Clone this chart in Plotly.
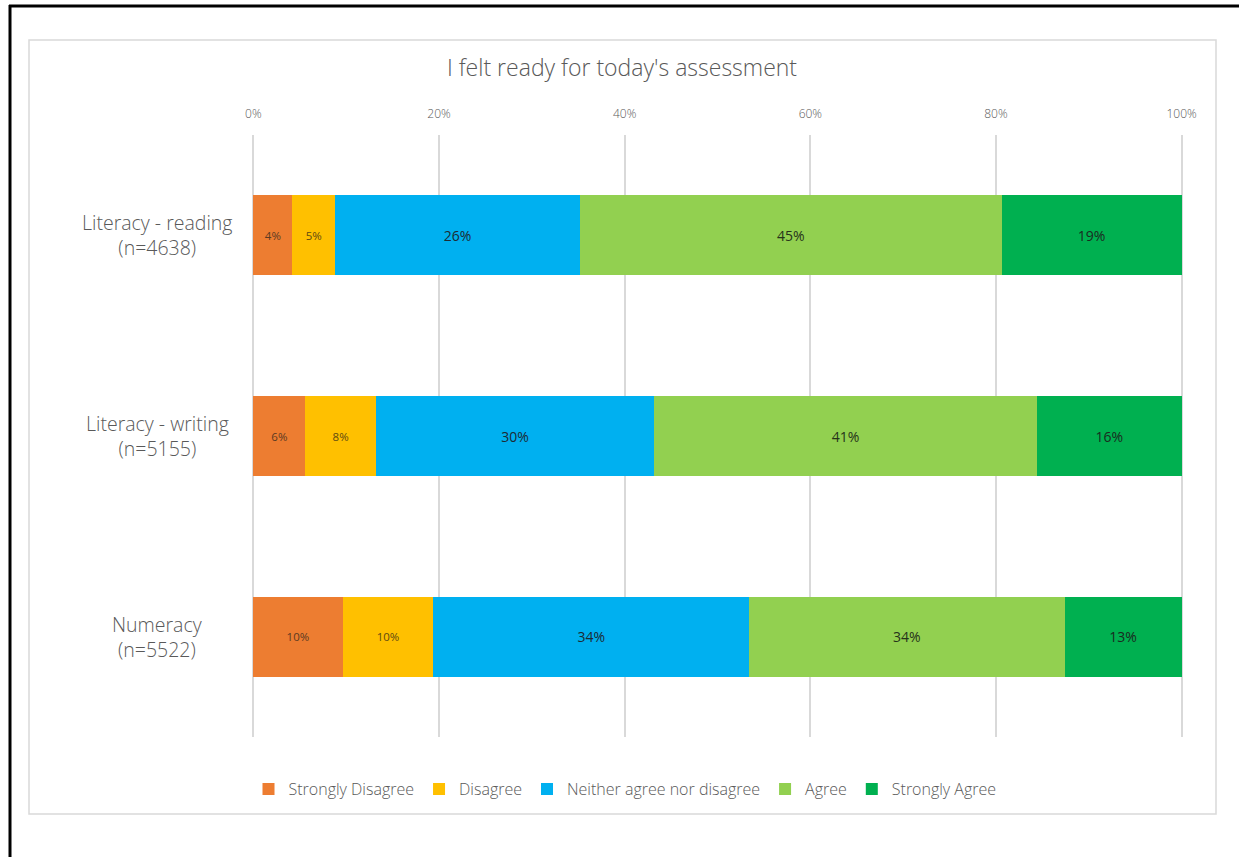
import plotly.graph_objects as go

# Survey responses (% of students) per assessment
groups = ["Literacy - reading", "Literacy - writing", "Numeracy"]
group_n = ["(n=4638)", "(n=5155)", "(n=5522)"]
responses = ["Strongly Disagree", "Disagree", "Neither agree nor disagree", "Agree", "Strongly Agree"]
strongly_disagree = [4.2, 5.6, 9.6]
disagree = [4.6, 7.6, 9.8]
neither = [26.4, 30.0, 34.0]
agree = [45.4, 41.2, 34.0]
strongly_agree = [19.4, 15.6, 12.6]
x_ticks = [0, 20, 40, 60, 80, 100]
x_tick_labels = ["0%", "20%", "40%", "60%", "80%", "100%"]

series = [strongly_disagree, disagree, neither, agree, strongly_agree]
colors = ["#ED7D31", "#FFC000", "#00B0F0", "#92D050", "#00B050"]
label_sizes = [11.5, 11.5, 14, 14, 14]
label_colors = ["#5b3a22", "#5e4a12", "#1d2a33", "#26331a", "#1a2a1f"]

W, H = 1239, 857
ML, MR, MT, MB = 252, 56, 135, 120
PW, PH = W - ML - MR, H - MT - MB


def px_x(p):
    return (p - ML) / PW


def px_y(p):
    return (H - MB - p) / PH


FONT = "Open Sans"
LIGHT = 300
GREY = "#595959"

fig = go.Figure()
for name, vals, col, fs, fc in zip(responses, series, colors, label_sizes, label_colors):
    fig.add_trace(go.Bar(
        y=groups, x=vals, name=name, orientation="h",
        marker=dict(color=col, line=dict(width=0)),
        texttemplate="%{x:.0f}%", textposition="inside",
        insidetextanchor="middle", constraintext="none",
        textfont=dict(family=FONT, size=fs, color=fc, weight=400),
        hoverinfo="skip",
    ))

shapes = [
    # outer frame (top and left edges)
    dict(type="line", xref="paper", yref="paper", x0=px_x(9), x1=px_x(W + 20),
         y0=px_y(6), y1=px_y(6), line=dict(color="black", width=3)),
    dict(type="line", xref="paper", yref="paper", x0=px_x(10), x1=px_x(10),
         y0=px_y(5), y1=px_y(H + 20), line=dict(color="black", width=3)),
    # chart area border
    dict(type="rect", xref="paper", yref="paper", x0=px_x(29), x1=px_x(1216),
         y0=px_y(814), y1=px_y(40), line=dict(color="#d9d9d9", width=1.5),
         fillcolor="rgba(0,0,0,0)", layer="below"),
]

annotations = []
for g, n in zip(groups, group_n):
    annotations.append(dict(
        x=px_x(157), xref="paper", y=g, yref="y", text=f"{g}<br>{n}",
        showarrow=False, xanchor="center", yanchor="middle", align="center",
        font=dict(family=FONT, size=19.5, color=GREY, weight=LIGHT),
    ))

fig.update_layout(
    width=W, height=H,
    margin=dict(l=ML, r=MR, t=MT, b=MB, pad=0),
    paper_bgcolor="white", plot_bgcolor="white",
    barmode="stack", bargap=0.6,
    title=dict(text="I felt ready for today's assessment", x=622 / W, xanchor="center",
               y=1 - 68 / H, yanchor="middle", xref="container", yref="container",
               font=dict(family=FONT, size=23, color=GREY, weight=LIGHT)),
    xaxis=dict(side="top", range=[-0.15, 100.15], tickvals=x_ticks, ticktext=x_tick_labels,
               showgrid=True, gridcolor="#d9d9d9", gridwidth=1.5, zeroline=False,
               showline=False, ticks="", ticklabelstandoff=14,
               tickfont=dict(family=FONT, size=12, color=GREY, weight=LIGHT)),
    yaxis=dict(autorange="reversed", showticklabels=False, showgrid=False,
               zeroline=False, showline=False, ticks=""),
    legend=dict(orientation="h", x=px_x(625), xanchor="center", y=px_y(789),
                yanchor="middle", font=dict(family=FONT, size=16, color=GREY, weight=LIGHT),
                traceorder="normal", itemclick=False, itemdoubleclick=False,
                itemwidth=30),
    shapes=shapes, annotations=annotations,
    font=dict(family=FONT, color=GREY),
)

fig.write_html("out.html")
